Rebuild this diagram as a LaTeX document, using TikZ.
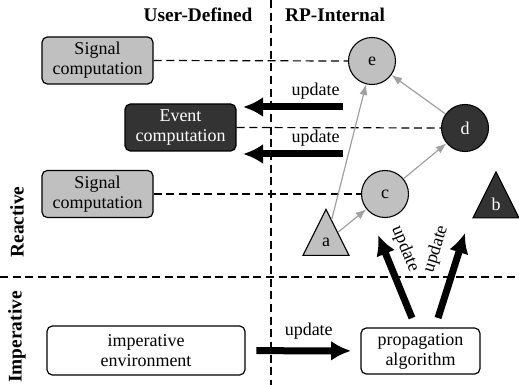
\documentclass[tikz,border=0pt]{standalone}
\usepackage{fontspec}
\setmainfont{Liberation Serif}
\usetikzlibrary{shapes.geometric,arrows.meta}

\definecolor{lightgr}{HTML}{C0C0C0}
\definecolor{darkgr}{HTML}{333333}
\definecolor{arrgr}{HTML}{A0A0A0}

\begin{document}
\begin{tikzpicture}[
                        x=0.75pt, y=-0.75pt,
                        >={Latex[length=8pt,width=6pt]},
                        font=\fontsize{13.5}{15}\selectfont,
                        box/.style={rectangle, rounded corners=4pt, draw, line width=0.9pt, align=center,
                                    minimum width=83.25pt, minimum height=35.25pt, inner sep=2pt},
                        sigbox/.style={box, fill=lightgr},
                        evtbox/.style={box, fill=darkgr, text=white},
                        rpnode/.style={circle, draw, line width=0.8pt, minimum size=35.25pt, inner sep=0pt},
                        srcnode/.style={isosceles triangle, isosceles triangle apex angle=53.13,
                                    shape border rotate=90, draw, line width=0.8pt,
                                    minimum width=34.5pt, minimum height=34.5pt, inner sep=0pt},
                        dep/.style={->, draw=arrgr, line width=0.9pt},
                        link/.style={draw, line width=0.9pt, dash pattern=on 6pt off 3.5pt},
                        upd/.style={-{Latex[length=15pt,width=15pt]}, line width=5.25pt},
                        title/.style={font=\fontsize{14.5}{16}\selectfont\bfseries}
                    ]
                    \useasboundingbox (0,0) rectangle (519,385);

                    % Regions
                    \draw [link] (271,0) -- (271,385);
                    \draw [link] (0,277) -- (519,277);
                    \node [title] (userdef) at (198,15) {User-Defined};
                    \node [title] (rpint) at (335,15) {RP-Internal};
                    \node [title, rotate=90] (reactive) at (17,222) {Reactive};
                    \node [title, rotate=90] (imperative) at (17,337) {Imperative};

                    % Blocks
                    \node [sigbox] (sigA) at (97.5,60.5) {Signal\\computation};
                    \node [evtbox] (evt) at (180.5,127.5) {Event\\computation};
                    \node [sigbox] (sigB) at (97.5,194) {Signal\\computation};
                    \node [box, minimum width=148.5pt, minimum height=36.75pt] (env) at (146,350.5) {imperative\\environment};
                    \node [box, minimum width=89.25pt, minimum height=34.5pt] (prop) at (420.5,351) {propagation\\algorithm};

                    \node [rpnode, fill=lightgr] (e) at (372,61) {e};
                    \node [rpnode, fill=darkgr, text=white] (d) at (465,128) {d};
                    \node [rpnode, fill=lightgr] (c) at (385,194) {c};
                    \node [srcnode, fill=lightgr] (a) at (326,242) {a};
                    \node [srcnode, fill=darkgr, text=white] (b) at (496,204) {b};

                    \coordinate (updEa) at (343,107);
                    \coordinate (updEb) at (243,107);
                    \coordinate (updDa) at (343,154);
                    \coordinate (updDb) at (243,154);
                    \coordinate (updCa) at (412,318);
                    \coordinate (updCb) at (378,235);
                    \coordinate (updBa) at (438,318);
                    \coordinate (updBb) at (465,233);

                    % Connections
                    \draw [link] (sigA.east) -- (e.west);
                    \draw [link] (evt.east) -- (d.west);
                    \draw [link] (sigB.east) -- (c.west);

                    \draw [dep] (d) -- (e);
                    \draw [dep] (c) -- (d);
                    \draw [dep] (a) -- (c);
                    \draw [dep] (a) -- (e);

                    \draw [upd] (updEa) -- node[pos=0, above left, inner sep=3pt, xshift=3pt]{update} (updEb);
                    \draw [upd] (updDa) -- node[pos=0, above left, inner sep=3pt, xshift=3pt]{update} (updDb);
                    \draw [upd, shorten <=8pt, shorten >=7pt] (env) -- node[above=3pt, pos=0.55]{update} (prop);
                    \draw [upd] (updCa) -- (updCb);
                    \draw [upd] (updBa) -- (updBb);
                    \node [rotate=-67.7, inner sep=1pt] (updClbl) at (405,249) {update};
                    \node [rotate=72.4, inner sep=1pt] (updBlbl) at (436,249) {update};
                \end{tikzpicture}
\end{document}
